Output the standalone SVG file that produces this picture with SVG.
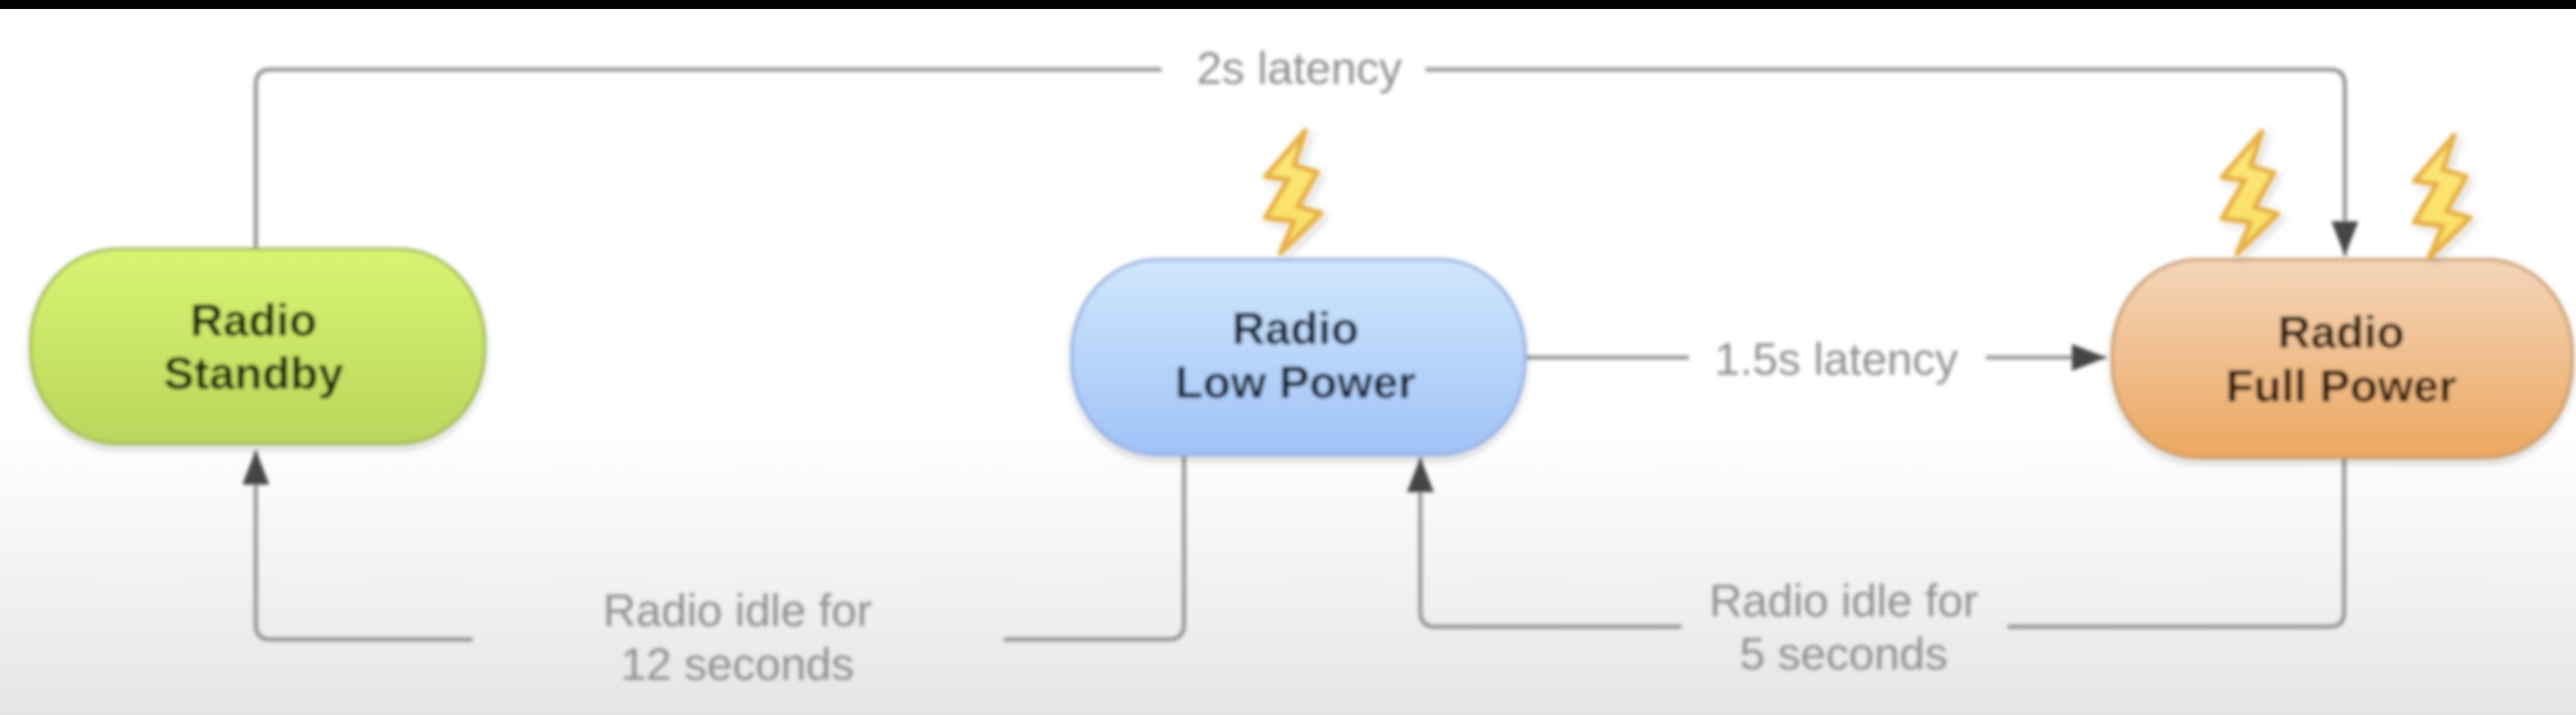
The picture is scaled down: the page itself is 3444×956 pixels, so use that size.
<svg xmlns="http://www.w3.org/2000/svg" width="3444" height="956" viewBox="0 0 3444 956">
<style>
.node-title{font-family:"Liberation Sans",Arial,sans-serif;font-size:61px;font-weight:700;text-anchor:middle}
.label{font-family:"Liberation Sans",Arial,sans-serif;font-size:61px;fill:#8f8f8f;text-anchor:middle}
.conn{fill:none;stroke:#949494;stroke-width:5.5}
.pill{stroke-width:4;filter:url(#shadow)}
</style>
<defs>
<linearGradient id="bg" x1="0" y1="0" x2="0" y2="1"><stop offset="0" stop-color="#fff"/><stop offset="0.6" stop-color="#fff"/><stop offset="0.76" stop-color="#f5f5f5"/><stop offset="1" stop-color="#e5e5e5"/></linearGradient>
<linearGradient id="green" x1="0" y1="0" x2="0" y2="1"><stop offset="0" stop-color="#d8f472"/><stop offset="1" stop-color="#bad65c"/></linearGradient>
<linearGradient id="blue" x1="0" y1="0" x2="0" y2="1"><stop offset="0" stop-color="#d0e7fc"/><stop offset="1" stop-color="#a0c2f7"/></linearGradient>
<linearGradient id="orange" x1="0" y1="0" x2="0" y2="1"><stop offset="0" stop-color="#f4d5ba"/><stop offset="1" stop-color="#eca760"/></linearGradient>
<linearGradient id="boltFill" x1="0" y1="0" x2="0" y2="1"><stop offset="0" stop-color="#fbe77a"/><stop offset="1" stop-color="#fadf62"/></linearGradient>
<filter id="soft" x="-2%" y="-2%" width="104%" height="104%"><feGaussianBlur stdDeviation="2.4"/></filter>
<filter id="shadow" x="-5%" y="-10%" width="110%" height="125%"><feDropShadow dx="0" dy="5" stdDeviation="5" flood-color="#000" flood-opacity="0.22"/></filter>
<filter id="boltShadow" x="-30%" y="-20%" width="170%" height="140%"><feDropShadow dx="5" dy="4" stdDeviation="6" flood-color="#000" flood-opacity="0.18"/></filter>
<marker id="arrow" markerUnits="userSpaceOnUse" markerWidth="46" markerHeight="38" refX="46" refY="19" orient="auto"><path d="M0 1 L46 19 L0 37 Z" fill="#444"/></marker>
<path id="bolt" d="M53 0 L0 61 L30 65 L0 116 L38 121 L20 163 L74 110 L43 101 L69 55 L38 46 Z" fill="url(#boltFill)" stroke="#e8b048" stroke-width="7" stroke-linejoin="round" filter="url(#boltShadow)"/>
</defs>
<rect id="background" width="3444" height="956" fill="url(#bg)"/>
<rect id="top-band" width="3444" height="12" fill="#000"/>
<g filter="url(#soft)">
<g id="connectors">
<path class="conn" d="M342 332 V113 Q342 93 362 93 H1553"/>
<path class="conn" d="M1906 93 H3115 Q3135 93 3135 113 V342" marker-end="url(#arrow)"/>
<path class="conn" d="M2039 478 H2258"/>
<path class="conn" d="M2655 478 H2816" marker-end="url(#arrow)"/>
<path class="conn" d="M1583 608 V834 Q1583 855 1562 855 H1342"/>
<path class="conn" d="M632 855 H362 Q342 855 342 835 V602" marker-end="url(#arrow)"/>
<path class="conn" d="M3134 612 V818 Q3134 838 3114 838 H2684"/>
<path class="conn" d="M2248 838 H1919 Q1899 838 1899 818 V612" marker-end="url(#arrow)"/>
<text class="label" x="1737" y="112">2s latency</text>
<text class="label" x="2455" y="501">1.5s latency</text>
<text class="label" x="986" y="837">Radio idle for</text>
<text class="label" x="986" y="909">12 seconds</text>
<text class="label" x="2465" y="824">Radio idle for</text>
<text class="label" x="2465" y="895">5 seconds</text>
</g>
<g id="node-standby">
<rect class="pill" x="41" y="333" width="607" height="260" rx="115" ry="125" fill="url(#green)" stroke="#a3b95a"/>
<text class="node-title" x="339" y="449" fill="#142005">Radio</text>
<text class="node-title" x="339" y="520" fill="#142005">Standby</text>
</g>
<g id="node-low-power">
<rect class="pill" x="1433" y="347" width="606" height="261" rx="115" ry="125" fill="url(#blue)" stroke="#98aee0"/>
<text class="node-title" x="1732" y="460" fill="#101d36">Radio</text>
<text class="node-title" x="1732" y="532" fill="#101d36">Low Power</text>
<use href="#bolt" x="1692" y="175"/>
</g>
<g id="node-full-power">
<rect class="pill" x="2824" y="347" width="615" height="265" rx="115" ry="125" fill="url(#orange)" stroke="#c99c6e"/>
<text class="node-title" x="3130" y="465" fill="#2e1504">Radio</text>
<text class="node-title" x="3130" y="537" fill="#2e1504">Full Power</text>
<use href="#bolt" x="2971" y="176"/>
<use href="#bolt" x="3228" y="181"/>
</g>
</g>
</svg>
